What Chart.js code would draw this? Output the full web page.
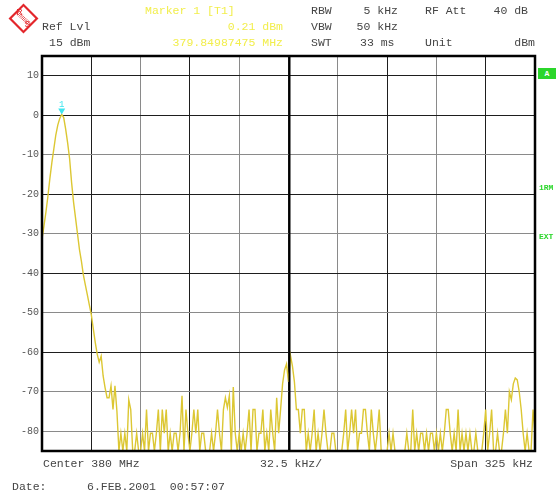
<!DOCTYPE html>
<html>
<head>
<meta charset="utf-8">
<script src="https://cdn.jsdelivr.net/npm/chart.js@4.4.1/dist/chart.umd.min.js"></script>
<style>
  body { margin: 0; background: #fff; width: 558px; height: 494px; overflow: hidden; position: relative;
         font-family: "Liberation Mono", "DejaVu Sans Mono", monospace; font-size: 11.5px; color: #454545; }
  #analyzer { position: absolute; left: 0; top: 0; }
  .t { position: absolute; white-space: pre; line-height: 1; }
  .y { color: #f2ee4c; }
  .g { color: #2bd62b; font-size: 8px; font-weight: bold; }
  .box { background: #2bd62b; color: #fff; width: 18px; height: 11px; text-align: center; line-height: 11px; font-size: 8px; font-weight: bold; }
</style>
</head>
<body>
<canvas id="analyzer" width="558" height="494"></canvas>

<div class="t" style="left:42px;top:21px">Ref Lvl</div>
<div class="t" style="left:49px;top:37px">15 dBm</div>
<div class="t y" style="left:145px;top:5px">Marker 1 [T1]</div>
<div class="t y" style="right:275px;top:21px">0.21 dBm</div>
<div class="t y" style="right:275px;top:37px">379.84987475 MHz</div>
<div class="t" style="left:311px;top:5px">RBW</div>
<div class="t" style="right:160px;top:5px">5 kHz</div>
<div class="t" style="left:425px;top:5px">RF Att</div>
<div class="t" style="right:30px;top:5px">40 dB</div>
<div class="t" style="left:311px;top:21px">VBW</div>
<div class="t" style="right:160px;top:21px">50 kHz</div>
<div class="t" style="left:311px;top:37px">SWT</div>
<div class="t" style="left:360px;top:37px">33 ms</div>
<div class="t" style="left:425px;top:37px">Unit</div>
<div class="t" style="right:23px;top:37px">dBm</div>

<div class="t box" style="left:538px;top:68px">A</div>
<div class="t g" style="left:539px;top:184px">1RM</div>
<div class="t g" style="left:539px;top:233px">EXT</div>

<div class="t" style="left:43px;top:458px">Center 380 MHz</div>
<div class="t" style="left:260px;top:458px">32.5 kHz/</div>
<div class="t" style="right:25px;top:458px">Span 325 kHz</div>
<div class="t" style="left:12px;top:481px">Date:</div>
<div class="t" style="left:87px;top:481px">6.FEB.2001  00:57:07</div>

<script>
// Sweep settings (kHz)
const centerKHz = 380000;
const spanKHz = 325;
const sweepPoints = 251;

// Level axis
const refLevel = 15;
const bottomLevel = -85;
const levelTicks = [10, 0, -10, -20, -30, -40, -50, -60, -70, -80];

// Trace 1 levels in dBm left to right
const traceLevel = [
  -31.3, -28, -24.5, -20.5, -16, -12, -8.5, -5, -2.5, -0.8,
  0.21, -0.6, -3.5, -7, -11, -17, -22, -26, -30, -34,
  -37, -40.5, -43, -45.5, -48, -50.5, -54, -57.5, -60.5, -62.5,
  -61, -66, -69, -71.5, -71.5, -68.5, -74.5, -68.5, -75, -85,
  -80.5, -85, -80.5, -85, -72, -74.5, -85, -85, -80.5, -85,
  -85, -80.5, -85, -74.5, -85, -80.5, -80.5, -85, -80.5, -74.5,
  -85, -74.5, -80.5, -74.5, -85, -80.5, -85, -80.5, -80.5, -85,
  -80.5, -71, -85, -74.5, -80.5, -85, -80.5, -74.5, -80.5, -74.5,
  -85, -80.5, -80.5, -85, -85, -85, -80.5, -85, -80.5, -74.5,
  -80.5, -85, -74.5, -71.5, -74, -71, -85, -68.8, -80.5, -85,
  -80.5, -85, -80.5, -85, -80.5, -74.5, -85, -74.5, -74.5, -85,
  -80.5, -80.5, -74.5, -85, -80.5, -85, -74.5, -80.5, -85, -71.5,
  -80.5, -74.5, -68, -64.5, -63, -67.5, -60.8, -63.5, -67.5, -74.5,
  -74.5, -80.5, -74.5, -74.5, -85, -80.5, -85, -80.5, -74.5, -85,
  -80.5, -85, -80.5, -74.5, -80.5, -85, -85, -80.5, -80.5, -85,
  -85, -85, -85, -80.5, -74.5, -85, -80.5, -74.5, -80.5, -74.5,
  -85, -80.5, -80.5, -74.5, -74.5, -80.5, -85, -74.5, -80.5, -85,
  -80.5, -74.5, -85, -85, -85, -85, -80.5, -85, -80.5, -85,
  -85, -85, -85, -85, -85, -80.5, -85, -85, -74.5, -85,
  -80.5, -85, -80.5, -80.5, -85, -80.5, -85, -80.5, -80.5, -85,
  -80.5, -85, -80.5, -85, -80.5, -74.5, -74.5, -80.5, -85, -80.5,
  -85, -74.5, -85, -80.5, -85, -80.5, -85, -80.5, -85, -85,
  -80.5, -85, -85, -85, -80.5, -74.5, -85, -80.5, -74.5, -85,
  -85, -80.5, -85, -85, -80.5, -74.5, -80.5, -70, -72, -68,
  -66.5, -67, -70, -74.5, -80.5, -85, -80.5, -85, -85, -74.5,
  -80.5
];

// Marker 1 sits on the trace maximum
const markerIndex = 10;

const startKHz = centerKHz - spanKHz / 2;
const stopKHz = centerKHz + spanKHz / 2;
const binKHz = spanKHz / (sweepPoints - 1);

const gridDark = '#1e1e1e';
const gridLight = '#8a8a8a';
const xGridColors = [gridDark, gridDark, gridLight, gridDark, gridLight, gridDark, gridLight, gridDark, gridLight, gridDark, gridDark];
const yGridColors = [gridDark, gridDark, gridLight, gridDark, gridLight, gridDark, gridLight, gridDark, gridLight, gridLight];

// frame, centre line, marker symbol and logo
const screenPlugin = {
    id: 'screen',
    beforeDraw(chart) {
        const ctx = chart.ctx;
        ctx.save();
        ctx.fillStyle = '#fff';
        ctx.fillRect(0, 0, chart.width, chart.height);
        // R&S logo: red diamond with a hatched band
        ctx.translate(23.5, 18.5);
        ctx.rotate(Math.PI / 4);
        ctx.strokeStyle = '#e3262b';
        ctx.lineWidth = 2.2;
        ctx.strokeRect(-9.5, -9.5, 19, 19);
        ctx.lineWidth = 0.8;
        for (let k = -8; k <= 8; k += 1.6) {
            ctx.beginPath();
            ctx.moveTo(k, -2);
            ctx.lineTo(k, 2);
            ctx.stroke();
        }
        ctx.setTransform(1, 0, 0, 1, 0, 0);
        ctx.fillStyle = '#e3262b';
        ctx.font = '9px "Liberation Sans"';
        ctx.textAlign = 'center';
        ctx.textBaseline = 'middle';
        ctx.fillText('R', 19.5, 12.5);
        ctx.fillText('S', 27.5, 24.5);
        ctx.restore();
    },
    afterDatasetsDraw(chart) {
        const { ctx, chartArea: a, scales: { x, y } } = chart;
        ctx.save();
        const cx = Math.round(x.getPixelForValue(centerKHz)) + 0.5;
        ctx.strokeStyle = '#000';
        ctx.lineWidth = 2;
        ctx.beginPath();
        ctx.moveTo(cx, a.top);
        ctx.lineTo(cx, a.bottom);
        ctx.stroke();
        ctx.lineWidth = 2.5;
        ctx.strokeRect(a.left, a.top, a.right - a.left, a.bottom - a.top);

        const mx = x.getPixelForValue(startKHz + markerIndex * binKHz);
        const my = y.getPixelForValue(traceLevel[markerIndex]);
        ctx.fillStyle = '#3fe6ef';
        ctx.beginPath();
        ctx.moveTo(mx - 3.5, my - 6);
        ctx.lineTo(mx + 3.5, my - 6);
        ctx.lineTo(mx, my);
        ctx.closePath();
        ctx.fill();
        ctx.font = '9px "Liberation Mono"';
        ctx.textAlign = 'center';
        ctx.textBaseline = 'alphabetic';
        ctx.fillText('1', mx, my - 7);
        ctx.restore();
    }
};

document.addEventListener('DOMContentLoaded', function() {
    const points = traceLevel.map((level, i) => ({ x: startKHz + i * binKHz, y: level }));

    new Chart(document.getElementById('analyzer'), {
        type: 'line',
        data: {
            datasets: [{
                label: 'Trace 1',
                data: points,
                borderColor: '#dcc733',
                borderWidth: 1.4,
                pointRadius: 0,
                tension: 0
            }]
        },
        options: {
            responsive: false,
            animation: false,
            devicePixelRatio: 1,
            layout: { padding: { left: 0, top: 56, right: 23, bottom: 43 } },
            plugins: {
                legend: { display: false },
                tooltip: { enabled: false }
            },
            scales: {
                x: {
                    type: 'linear',
                    min: startKHz,
                    max: stopKHz,
                    afterBuildTicks: scale => {
                        scale.ticks = [];
                        for (let k = 0; k <= 10; k++) scale.ticks.push({ value: startKHz + k * spanKHz / 10 });
                    },
                    afterFit: scale => { scale.height = 0; },
                    ticks: { display: false },
                    border: { display: false },
                    grid: {
                        drawTicks: false,
                        color: ctx => xGridColors[ctx.index] || gridDark,
                        lineWidth: 1
                    }
                },
                y: {
                    min: bottomLevel,
                    max: refLevel,
                    afterBuildTicks: scale => {
                        scale.ticks = levelTicks.map(v => ({ value: v }));
                    },
                    afterFit: scale => { scale.width = 42; },
                    border: { display: false },
                    grid: {
                        drawTicks: false,
                        color: ctx => yGridColors[ctx.index] || gridDark,
                        lineWidth: 1
                    },
                    ticks: {
                        padding: 3,
                        color: '#555',
                        font: { family: '"Liberation Mono"', size: 10 }
                    }
                }
            }
        },
        plugins: [screenPlugin]
    });
});
</script>
</body>
</html>
